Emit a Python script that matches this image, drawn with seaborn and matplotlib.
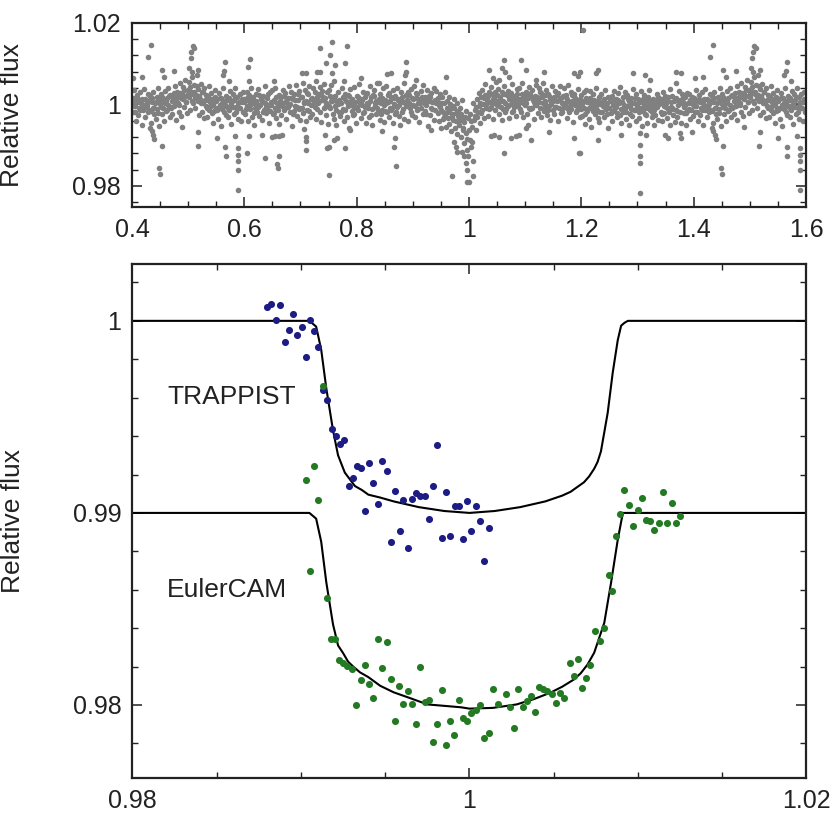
import numpy as np
import pandas as pd
import matplotlib
matplotlib.use("Agg")
import matplotlib.pyplot as plt
import seaborn as sns
from matplotlib.ticker import MultipleLocator, FuncFormatter

# ---- top panel: phase-folded light curve (phase in 1e-3, flux offset in 1e-3) ----
band_pts = """
601,1.2 602,-2.5 604,3.1 605,-0.4 607,-4.2 608,0.8 609,2.2
611,-1.1 612,4.0 614,-3.0 615,0.3 616,1.9 618,-5.1 619,-0.9
621,2.6 622,-1.8 623,0.1 625,3.7 626,-2.9 628,-0.2 629,1.4
631,-3.8 632,0.9 634,2.0 635,-1.4 637,4.4 638,-0.6 639,-2.2
641,1.6 642,-0.3 644,-4.6 645,2.9 646,-1.7 648,0.5 649,3.4
651,-2.4 652,1.1 654,-0.8 655,4.1 657,-3.3 658,0.2 659,-1.0
661,2.3 662,-4.9 663,-0.1 665,1.8 666,-2.6 668,3.5 669,0.4
671,-1.3 672,2.7 674,-3.7 675,0.7 677,1.5 678,-0.7 679,4.6
681,-2.0 682,0.0 684,3.0 685,-5.4 686,1.2 688,-1.6 689,2.4
691,-0.5 692,4.8 694,-2.8 695,1.0 697,-1.2 698,3.2 699,-3.9
701,1.9 702,-0.9 704,5.2 705,-2.1 707,0.6 708,3.6 709,-4.0
711,2.8 712,-1.5 714,0.4 715,4.5 717,-3.2 718,1.3 719,-0.3
721,-2.3 722,3.9 724,0.8 725,-0.6 727,5.6 728,-3.6 729,1.7
731,0.2 732,2.5 734,-1.9 735,4.2 737,-4.4 738,1.0 739,3.3
741,-0.8 742,5.0 744,1.5 745,-2.7 747,2.9 748,-0.2 749,-4.8
751,3.4 752,-1.0 754,0.9 755,4.7 757,-2.4 758,1.8 759,-3.5
761,-0.4 762,2.1 764,-5.0 765,0.6 767,3.0 768,-1.8 769,1.1
771,-2.9 772,0.3 774,4.0 775,-1.2 777,1.6 778,-4.1 779,2.6
781,0.9 782,-3.1 784,2.2 785,-0.5 787,-5.7 788,3.7 789,0.0
791,-1.6 792,1.4 794,-2.6 795,4.3 797,0.5 798,-0.9 799,-4.5
801,2.0 802,-1.3 804,0.7 805,4.9 807,-3.4 808,1.2 809,-0.2
811,-2.2 812,3.1 814,-0.7 815,1.7 817,-4.7 818,0.4 819,2.8
821,0.1 822,-3.0 824,4.4 825,1.9 827,-1.1 828,-5.2 829,2.3
831,3.6 832,-0.4 834,-2.5 835,0.8 837,5.3 838,-1.7 839,1.3
841,-3.8 842,2.4 844,0.2 845,-1.4 847,3.9 848,-0.1 849,-4.3
851,1.0 852,4.6 854,-2.0 855,0.5 857,-3.2 858,2.7 859,-0.8
861,-1.5 862,1.8 864,3.4 865,-4.6 867,0.0 868,2.1 869,-2.3
871,4.1 872,-0.6 874,1.4 875,-2.9 877,0.9 878,-5.0 879,3.0
881,-1.9 882,0.6 884,5.1 885,-3.5 887,2.3 888,-0.3 889,1.1
891,2.9 892,-4.2 894,0.3 895,-1.0 897,3.8 898,1.5 899,-2.7
901,-0.2 902,4.4 904,-3.1 905,1.6 907,-1.3 908,2.6 909,0.4
911,-4.4 912,1.2 914,3.2 915,-0.9 917,0.7 918,-2.4 919,4.8
921,1.9 922,-1.7 924,-0.3 925,3.5 927,-5.3 928,0.9 929,2.0
931,-2.6 932,2.8 934,0.5 935,-1.2 937,4.0 938,-3.9 939,1.0
941,0.2 942,3.3 944,-2.1 945,1.5 947,-4.0 948,-0.6 949,2.4
951,-1.4 952,1.7 954,-3.6 955,0.4 957,2.9 958,-2.3 959,-5.6
961,0.9 962,-2.0 964,-4.8 965,1.8 967,-1.1 968,-6.5 969,-3.0
971,-0.4 972,-3.8 974,1.3 975,-5.9 977,-2.2 978,-7.4 979,0.2
981,-2.9 982,-5.2 984,-0.8 985,-8.1 987,-3.6 988,1.0 989,-6.3
991,-4.4 992,-9.5 994,-1.6 995,-7.0 997,-11.2 998,-3.3 999,-12.6
1001,-8.8 1002,-2.5 1004,-10.4 1005,-5.5 1007,0.4 1008,-13.8 1009,-3.9
1011,-1.5 1012,-6.2 1014,1.4 1015,-3.0 1017,2.7 1018,-0.4 1019,-4.6
1021,1.8 1022,-2.2 1024,3.6 1025,0.0 1027,-3.4 1028,2.2 1029,4.9
1031,-1.0 1032,1.1 1034,-2.8 1035,3.0 1037,0.6 1038,-0.8 1039,4.3
1041,2.5 1042,-3.6 1044,0.3 1045,1.6 1047,-1.5 1048,5.4 1049,-0.2
1051,0.8 1052,3.7 1054,-2.4 1055,1.9 1057,-0.6 1058,-3.9 1059,2.9
1061,-1.2 1062,4.5 1064,0.4 1065,-2.0 1067,2.3 1068,-0.1 1069,3.3
1071,1.4 1072,-3.3 1074,2.7 1075,0.1 1077,5.0 1078,-1.7 1079,0.9
1081,-0.7 1082,2.0 1084,-2.9 1085,3.8 1087,1.2 1088,-0.4 1089,4.1
1091,0.5 1092,-1.9 1094,2.6 1095,5.3 1097,-3.0 1098,1.7 1099,-0.3
1101,3.1 1102,0.2 1104,-2.3 1105,1.5 1107,4.2 1108,-1.1 1109,2.4
1111,-0.9 1112,3.5 1114,1.0 1115,-3.6 1117,2.1 1118,0.0 1119,4.7
1121,1.8 1122,-2.1 1124,4.0 1125,0.6 1127,-0.8 1128,2.8 1129,-3.2
1131,0.3 1132,5.1 1134,-1.6 1135,2.2 1137,-0.2 1138,3.6 1139,-2.7
1141,2.5 1142,-0.5 1144,1.1 1145,-3.8 1147,4.4 1148,0.7 1149,-1.3
1151,-2.4 1152,1.9 1154,3.2 1155,-0.6 1157,0.8 1158,-4.0 1159,2.7
1161,1.0 1162,4.6 1164,-2.2 1165,0.4 1167,2.0 1168,-1.0 1169,3.9
1171,-0.3 1172,2.3 1174,-3.4 1175,1.3 1177,4.8 1178,-1.8 1179,0.6
1181,3.0 1182,-1.2 1184,0.9 1185,-4.3 1187,2.4 1188,-0.1 1189,1.6
1191,-2.0 1192,0.5 1194,3.7 1195,-0.7 1197,1.2 1198,-3.1 1199,2.2
1201,0.1 1202,-2.8 1204,2.9 1205,-1.0 1207,-4.9 1208,1.5 1209,3.4
1211,-1.6 1212,1.0 1214,-3.7 1215,3.2 1217,-0.2 1218,-5.5 1219,0.8
1221,2.4 1222,-0.9 1224,-2.5 1225,0.6 1227,4.0 1228,-1.4 1229,-3.3
1231,1.7 1232,-4.4 1234,0.0 1235,2.6 1237,-2.0 1238,0.9 1239,-0.5
1241,-3.0 1242,3.5 1244,-1.2 1245,0.4 1247,-5.8 1248,1.9 1249,-0.8
1251,0.7 1252,-2.2 1254,2.1 1255,-4.1 1257,-0.3 1258,3.3 1259,-1.5
1261,-0.6 1262,1.4 1264,-3.2 1265,2.8 1267,0.2 1268,-2.6 1269,4.2
1271,-4.6 1272,0.5 1274,-1.8 1275,1.9 1277,-0.9 1278,3.0 1279,-3.5
1281,2.2 1282,-0.4 1284,-5.0 1285,0.8 1287,-2.3 1288,1.6 1289,-1.1
1291,-2.9 1292,3.8 1294,0.3 1295,-1.5 1297,2.5 1298,-4.2 1299,0.0
1301,1.2 1302,-3.4 1304,0.6 1305,-0.9 1307,3.2 1308,-5.3 1309,-1.7
1311,-0.2 1312,2.3 1314,-2.4 1315,0.9 1317,-4.5 1318,1.7 1319,-1.0
1321,3.6 1322,-1.3 1324,0.2 1325,-3.1 1327,1.4 1328,-0.5 1329,-5.2
1331,0.8 1332,-2.7 1334,2.6 1335,-0.7 1337,-3.8 1338,1.1 1339,0.0
1341,-1.9 1342,1.3 1344,-4.0 1345,3.0 1347,-0.4 1348,-2.1 1349,2.0
1351,0.4 1352,-3.3 1354,1.8 1355,-1.2 1357,3.7 1358,-5.0 1359,-0.6
1361,2.1 1362,-0.8 1364,-2.6 1365,0.7 1367,-4.3 1368,1.5 1369,-1.4
1371,-3.0 1372,1.0 1374,3.3 1375,-1.8 1377,0.3 1378,-4.7 1379,2.4
1381,0.6 1382,-2.2 1384,1.7 1385,-0.3 1387,-5.1 1388,2.8 1389,-1.6
1391,-1.1 1392,2.5 1394,-3.5 1395,0.4 1397,1.9 1398,-2.8 1399,0.0
1401,1.6 1402,-1.9 1404,3.4 1405,-0.4 1407,-4.0 1408,0.9 1409,2.3
1411,-2.7 1412,0.5 1414,2.9 1415,-1.3 1417,-5.2 1418,1.4 1419,-0.2
1421,3.8 1422,-0.8 1424,-3.1 1425,1.1 1427,0.0 1428,-2.0 1429,2.6
1431,-1.5 1432,2.0 1434,-4.6 1435,0.6 1437,3.1 1438,-0.9 1439,-2.4
1441,0.3 1442,-3.6 1444,1.8 1445,-1.1 1447,3.9 1448,-5.3 1449,0.8
1451,2.5 1452,-0.6 1454,-2.3 1455,1.3 1457,-4.2 1458,0.2 1459,3.3
1461,-1.7 1462,1.5 1464,4.1 1465,-0.2 1467,-3.0 1468,2.2 1469,-1.0
1471,0.7 1472,-2.5 1474,2.7 1475,-0.5 1477,4.5 1478,-3.9 1479,1.2
1481,3.0 1482,0.4 1484,-1.8 1485,5.2 1487,1.6 1488,-2.9 1489,2.4
1491,4.3 1492,-0.7 1494,2.1 1495,6.0 1497,0.5 1498,-2.2 1499,3.5
1501,1.8 1502,5.5 1504,-1.4 1505,3.1 1507,6.8 1508,0.2 1509,2.6
1511,4.7 1512,-0.9 1514,2.2 1515,7.1 1517,0.9 1518,3.8 1519,-2.6
1521,1.4 1522,5.0 1524,-1.8 1525,2.9 1527,0.3 1528,-3.4 1529,4.1
1531,-0.5 1532,2.3 1534,-3.0 1535,1.0 1537,4.6 1538,-1.5 1539,0.6
1541,2.7 1542,-2.1 1544,0.0 1545,-4.7 1547,1.9 1548,3.5 1549,-0.8
1551,-1.3 1552,1.2 1554,-3.5 1555,2.8 1557,-0.3 1558,-5.4 1559,1.6
1561,0.4 1562,3.9 1564,-1.9 1565,0.9 1567,-2.7 1568,2.0 1569,-0.6
1571,-3.2 1572,1.5 1574,-0.4 1575,3.3 1577,-4.9 1578,0.7 1579,2.4
1581,1.1 1582,-2.4 1584,4.0 1585,-0.7 1587,1.8 1588,-3.7 1589,0.2
1591,-1.0 1592,2.6 1594,-4.1 1595,0.5 1597,3.0 1598,-2.0 1599,1.3
"""

# denser core of the band
core_pts = """
600,0.5 603,-1.2 606,1.8 610,-0.3 613,1.5 617,-2.1 620,0.9 624,-0.7 627,2.2
630,1.3 633,-1.9 636,0.2 640,-0.9 643,2.4 647,-0.1 650,0.6 653,-2.2 656,1.7
660,-1.4 664,0.8 667,-0.4 670,2.0 673,-0.9 676,0.3 680,-0.2 683,1.6 687,-2.4
690,1.1 693,-0.6 696,2.5 700,-1.0 703,1.9 706,0.4 710,0.7 713,2.6 716,-1.6
720,1.5 723,-0.2 726,2.9 730,-1.2 733,0.9 736,2.3 740,1.8 743,-0.7 746,0.4
750,-0.5 753,2.1 756,0.9 760,1.2 763,-1.5 766,0.1 770,0.4 773,-2.0 776,1.9
780,-1.3 783,0.6 786,2.0 790,0.8 793,-0.4 796,-2.3 800,-0.6 803,1.7 806,0.0
810,1.0 813,-1.8 816,2.4 820,-0.9 823,0.8 826,-2.6 830,2.1 833,0.3 836,-1.0
840,0.5 843,-2.3 846,1.6 850,-1.7 853,0.2 856,2.3 860,0.9 863,-0.8 866,1.5
870,-2.0 873,1.1 876,-0.3 880,1.7 883,-1.1 886,0.6 890,-0.4 893,2.2 896,-1.9
900,1.3 903,-0.5 906,2.7 910,-1.2 913,0.4 916,1.8 920,0.2 923,-2.4 926,1.1
930,1.9 933,-0.8 936,0.6 940,-1.5 943,1.0 946,-0.2 950,0.3 953,-1.8 956,-3.1
960,-1.0 963,-3.4 966,0.0 970,-2.5 973,-0.9 976,-4.2 980,-1.6 983,-4.0 986,-2.4
990,-5.8 993,-3.0 996,-8.5 1000,-6.4 1003,-4.2 1006,-9.3 1010,-2.8 1013,-0.6
1016,-2.0 1020,0.4 1023,-1.3 1026,1.6 1030,0.0 1033,2.0 1036,-1.1 1040,-0.7
1043,1.3 1046,3.0 1050,2.2 1053,-0.4 1056,0.9 1060,0.7 1063,2.4 1066,-1.1
1070,-0.4 1073,1.8 1076,-1.9 1080,1.0 1083,0.2 1086,2.6 1090,-1.1 1093,1.4
1096,0.3 1100,0.8 1103,2.7 1106,-0.8 1110,1.9 1113,-1.0 1116,0.6 1120,-0.3
1123,1.2 1126,2.9 1130,1.7 1133,-0.9 1136,0.8 1140,-1.4 1143,2.0 1146,0.1
1150,0.9 1153,-0.6 1156,2.2 1160,-0.8 1163,1.5 1166,-2.0 1170,2.1 1173,0.6
1176,-1.2 1180,-0.5 1183,2.3 1186,0.3 1190,1.0 1193,-1.4 1196,0.2 1200,-1.1
1203,0.9 1206,-2.3 1210,0.5 1213,-0.8 1216,1.6 1220,-1.7 1223,1.0 1226,-0.5
1230,0.8 1233,-1.9 1236,0.3 1240,1.2 1243,-0.6 1246,-2.4 1250,-0.9 1253,1.1
1256,-1.6 1260,0.3 1263,-2.2 1266,1.0 1270,-1.1 1273,0.6 1276,-0.2 1280,-1.8
1283,1.2 1286,-0.5 1290,0.4 1293,-1.3 1296,1.5 1300,-0.6 1303,-2.0 1306,0.9
1310,1.3 1313,-0.9 1316,-2.6 1320,-0.1 1323,1.0 1326,-1.8 1330,-1.4 1333,0.5
1336,1.7 1340,0.2 1343,-2.5 1346,0.9 1350,-0.7 1353,1.4 1356,-1.9 1360,0.6
1363,-1.1 1366,1.2 1370,-1.6 1373,-0.2 1376,0.9 1380,1.3 1383,-0.7 1386,-2.2
1390,0.2 1393,1.1 1396,-1.4 1400,-0.5 1403,0.8 1406,-1.8 1410,1.4 1413,-1.0
1416,0.4 1420,-1.5 1423,1.3 1426,-0.4 1430,0.9 1433,-1.7 1436,1.6 1440,-0.8
1443,0.5 1446,-2.1 1450,0.1 1453,1.7 1456,-1.0 1460,0.8 1463,-1.3 1466,2.0
1470,-0.6 1473,1.5 1476,0.2 1480,1.9 1483,-0.3 1486,2.8 1490,1.2 1493,3.4
1496,0.6 1500,2.6 1503,4.2 1506,0.9 1510,3.0 1513,1.5 1516,4.4 1520,2.0
1523,0.2 1526,3.1 1530,1.1 1533,-0.8 1536,2.0 1540,-0.4 1543,1.3 1546,-1.6
1550,0.7 1553,-0.9 1556,1.5 1560,-1.2 1563,0.9 1566,-0.2 1570,1.0 1573,-1.5
1576,0.4 1580,-0.6 1583,1.7 1586,-1.9 1590,0.5 1593,-0.8 1596,1.4
"""

outlier_pts = """
756,15.3 735,13.7 753,12.1 783,14.3 611,11.0 607,9.2 608,5.7 745,10.2
762,9.6 780,10.0 703,7.6 709,7.6 729,7.8 735,7.8 756,7.6 652,5.8 759,5.7
777,5.7 649,-8.0 655,-7.8 661,-7.7 667,-7.5 631,-7.5 608,-7.9 706,-6.1
709,-8.1 710,-9.1 709,-11.3 637,-13.2 661,-12.8 658,-14.6 660,-15.7
751,-17.3 747,-10.8 750,-10.4 780,-10.8 744,-7.5 759,-8.7 765,-8.3
789,-6.3 605,-12.0
887.2,10.4 887.2,8.0 885.4,7.2 860.5,7.6 854.5,7.4 905,6.0 958.4,6.6
807.1,6.4 839.7,5.2 869,-8.3 866.4,-10.4 869.4,-15.1 845.6,-6.6
931.7,-6.3 949.5,-5.9 970.3,-17.7 973.2,-9.2 976.2,-10.4 979.2,-11.6
994,-14.4 997,-16.1 997,-19.0 991.1,-12.8 988.1,-11.6
1062.8,10.9 1092.5,10.9 1036.1,8.4 1058.7,8.8 1064.6,8.0 1101.4,8.4
1134,7.8 1187.5,7.6 1193.4,6.9 1042.1,6.4 1052.8,5.9 1071.7,6.7
1119.2,5.9 1039.1,-7.9 1045,-7.5 1053.9,-8.1 1074.7,-8.3 1089.5,-7.5
1083.6,-7.9 1110.3,-8.8 1062.8,-12.0 1006.5,-17.7 1000.5,-19.1
1143,-6.7 1187.5,-8.3 1196.4,-12.0 1101.4,-5.9 1104.4,-5.1
1202.3,18.2 1229.6,8.4 1226.6,7.6 1197,7.8 1291.9,7.6 1312.7,7.2
1321.6,6.0 1369.1,8.0 1378,7.6 1369.1,5.1 1229.6,-8.7 1197,-12.0
1303.8,-7.1 1303.8,-10.0 1303.8,-12.7 1303.8,-14.3 1303.8,-21.8
1271.2,-7.5 1354.2,-8.3 1348.3,-7.5 1375,-7.1 1378,-8.3 1315.7,-7.5
1433.8,14.5 1429,11.5 1507.9,14.3 1510.3,13.7 1505,12.8 1504.4,11.3
1502,8.8 1506.2,7.8 1452.7,8.4 1475.3,8.2 1565.5,10.4 1564.3,8.2
1561.3,7.2 1402.3,6.4 1417.1,6.8 1572.6,5.7 1456.9,6.6 1518,8.4
1437.9,-7.5 1439.7,-8.6 1452.7,-10.2 1448,-15.7 1449.8,-17.1
1489.5,-5.6 1518,-6.9 1516.8,-10.2 1550.7,-8.3 1565.5,-10.4
1566.7,-12.8 1589.2,-10.8 1589.2,-12.4 1589.2,-14.0 1589.2,-16.2
1589.2,-21.0 1396.4,-6.7 1432,-5.9 1435,-6.5 1583.3,-7.9
"""

# ---- bottom panel: transit photometry ----
trappist_phase = [0.98797, 0.98821, 0.98876, 0.98852, 0.98955, 0.98904, 0.98928,
                  0.98979, 0.99005, 0.99030, 0.99054, 0.99080, 0.99103, 0.99133,
                  0.99153, 0.99183, 0.99208, 0.99232, 0.99256, 0.99282, 0.99308,
                  0.99331, 0.99357, 0.99406, 0.99430, 0.99381, 0.99460, 0.99480,
                  0.99509, 0.99559, 0.99608, 0.99585, 0.99535, 0.99638, 0.99658,
                  0.99683, 0.99707, 0.99737, 0.99786, 0.99757, 0.99810, 0.99862,
                  0.99836, 0.99885, 0.99915, 0.99935, 0.99985, 1.00040, 1.00064,
                  1.00010, 1.00113, 0.99961, 1.00089]
trappist_flux = [1.00074, 1.00088, 1.00083, 1.00002, 1.00035, 0.99892, 0.99953,
                 0.99927, 0.99967, 0.99811, 1.00005, 0.99948, 0.99866, 0.99641,
                 0.99589, 0.99438, 0.99398, 0.99359, 0.99381, 0.99142, 0.99182,
                 0.99246, 0.99232, 0.99260, 0.99156, 0.99012, 0.99047, 0.99268,
                 0.99220, 0.99112, 0.99066, 0.98908, 0.98847, 0.98818, 0.99073,
                 0.99104, 0.99086, 0.99086, 0.99138, 0.98969, 0.99355, 0.99109,
                 0.98870, 0.98878, 0.99034, 0.99038, 0.99060, 0.99034, 0.98956,
                 0.98908, 0.98922, 0.98865, 0.98748]

euler_phase = [0.99133, 0.99080, 0.99030, 0.99103, 0.99054, 0.99153, 0.99177,
               0.99203, 0.99228, 0.99252, 0.99276, 0.99305, 0.99381, 0.99480,
               0.99460, 0.99510, 0.99707, 0.99357, 0.99406, 0.99533, 0.99584,
               0.99634, 0.99430, 0.99327, 0.99608, 0.99658, 0.99737, 0.99762,
               0.99836, 0.99559, 0.99683, 0.99810, 0.99885, 0.99786, 0.99862,
               0.99911, 0.99935, 0.99961, 0.99985, 1.00010, 1.00040, 1.00064,
               1.00089, 1.00113, 1.00139, 1.00172, 1.00218, 1.00242, 1.00267,
               1.00287, 1.00317, 1.00341, 1.00365, 1.00390, 1.00410, 1.00436,
               1.00460, 1.00489, 1.00515, 1.00539, 1.00562, 1.00594, 1.00644,
               1.00618, 1.00667, 1.00693, 1.00717, 1.00746, 1.00772, 1.00796,
               1.00825, 1.00846, 1.00871, 1.00895, 1.00919, 1.00947, 1.00970,
               1.00998, 1.01024, 1.01049, 1.01073, 1.01097, 1.01122, 1.01148,
               1.01172, 1.01202, 1.01223, 1.01251]
euler_flux = [0.99662, 0.99246, 0.99170, 0.99066, 0.98696, 0.98558, 0.98341,
              0.98341, 0.98233, 0.98220, 0.98202, 0.98185, 0.98206, 0.98190,
              0.98346, 0.98329, 0.98196, 0.98130, 0.98107, 0.98137, 0.98098,
              0.98072, 0.98038, 0.97998, 0.98003, 0.98003, 0.98015, 0.98025,
              0.98077, 0.97916, 0.97899, 0.97899, 0.97916, 0.97809, 0.97792,
              0.97842, 0.98025, 0.97934, 0.97916, 0.97960, 0.97973, 0.97998,
              0.97826, 0.97856, 0.98085, 0.98003, 0.98055, 0.97989, 0.97882,
              0.98085, 0.97991, 0.98020, 0.98046, 0.97963, 0.98095, 0.98085,
              0.98072, 0.98055, 0.98008, 0.98064, 0.98038, 0.98220, 0.98241,
              0.98150, 0.98086, 0.98142, 0.98206, 0.98384, 0.98332, 0.98402,
              0.98679, 0.98592, 0.98878, 0.98996, 0.99118, 0.99043, 0.98930,
              0.99017, 0.99078, 0.98965, 0.98956, 0.98913, 0.98948, 0.99107,
              0.98948, 0.99052, 0.98948, 0.98982]

# model curves (vertices)
model_t_phase = [0.9800, 0.9905, 0.9909, 0.9912, 0.9915, 0.9919, 0.9922, 0.9926,
                 0.9929, 0.9932, 0.9936, 0.9940, 0.9947, 0.9955, 0.9970, 0.9985,
                 1.0000, 1.0015, 1.0030, 1.0045, 1.0055, 1.0060, 1.0064, 1.0068,
                 1.0071, 1.0074, 1.0076, 1.0078, 1.0082, 1.0085, 1.0088, 1.0090,
                 1.0092, 1.0094, 1.0200]
model_t_flux = [1.0000, 1.0000, 0.9997, 0.9985, 0.9965, 0.9943, 0.9930, 0.9921,
                0.99175, 0.9914, 0.9912, 0.99095, 0.9908, 0.9906, 0.9903, 0.9901,
                0.9900, 0.9901, 0.9903, 0.9906, 0.9909, 0.9911, 0.99135, 0.9916,
                0.9919, 0.9923, 0.99265, 0.9932, 0.9952, 0.9973, 0.9990, 0.99975,
                0.9999, 1.0000, 1.0000]
model_e_phase = [0.9800, 0.9905, 0.9909, 0.9912, 0.9915, 0.9919, 0.9922, 0.9925,
                 0.9928, 0.9931, 0.9935, 0.9940, 0.9947, 0.9955, 0.9965, 0.9975,
                 0.9995, 1.0000, 1.0014, 1.0028, 1.0038, 1.0048, 1.0055, 1.0062,
                 1.0066, 1.0070, 1.0074, 1.0080, 1.0084, 1.0088, 1.0091, 1.0200]
model_e_flux = [0.9900, 0.9900, 0.9897, 0.9885, 0.9864, 0.9842, 0.9831, 0.9827,
                0.98225, 0.9820, 0.9817, 0.98145, 0.9810, 0.98066, 0.98035,
                0.98003, 0.97988, 0.97981, 0.97985, 0.98003, 0.9803, 0.98064,
                0.98095, 0.98133, 0.98165, 0.9821, 0.98272, 0.98428, 0.98636,
                0.98861, 0.9900, 0.9900]


def parse_pairs(text):
    arr = np.array([p.split(",") for p in text.split()], dtype=float)
    return arr[:, 0] / 1000.0, 1.0 + arr[:, 1] / 1000.0


frames = []
for block in (band_pts, core_pts, outlier_pts):
    ph, fl = parse_pairs(block)
    frames.append(pd.DataFrame({"phase": ph, "flux": fl}))
top = pd.concat(frames, ignore_index=True)
# the folded curve is shown over 1.2 cycles: phases 1.4-1.6 repeat at 0.4-0.6
top = pd.concat([top, top[top.phase >= 1.4].assign(phase=lambda d: d.phase - 1.0)])

sns.set_style("ticks")
plt.rcParams["font.family"] = ["Liberation Sans", "DejaVu Sans"]

fig = plt.figure(figsize=(8.38, 8.25), dpi=100)
ax1 = fig.add_axes([0.1575, 0.7495, 0.8043, 0.2230])
ax2 = fig.add_axes([0.1581, 0.0570, 0.8043, 0.6230])

sns.scatterplot(data=top, x="phase", y="flux", ax=ax1, color="#808080",
                s=16, linewidth=0, legend=False)

trap = pd.DataFrame({"phase": trappist_phase, "flux": trappist_flux})
euler = pd.DataFrame({"phase": euler_phase, "flux": euler_flux})
mt = pd.DataFrame({"phase": model_t_phase, "flux": model_t_flux})
me = pd.DataFrame({"phase": model_e_phase, "flux": model_e_flux})

sns.lineplot(data=mt, x="phase", y="flux", ax=ax2, color="black", lw=1.5,
             sort=False, estimator=None)
sns.lineplot(data=me, x="phase", y="flux", ax=ax2, color="black", lw=1.5,
             sort=False, estimator=None)
sns.scatterplot(data=trap, x="phase", y="flux", ax=ax2, color="#1c1c84",
                s=26, linewidth=0, legend=False, zorder=3)
sns.scatterplot(data=euler, x="phase", y="flux", ax=ax2, color="#237a23",
                s=26, linewidth=0, legend=False, zorder=3)

ax2.text(0.98205, 0.99605, "TRAPPIST", fontsize=19, va="center", ha="left",
         color="#222222")
ax2.text(0.98205, 0.98601, "EulerCAM", fontsize=19, va="center", ha="left",
         color="#222222")

fmt = FuncFormatter(lambda v, p: f"{v:g}")

ax1.set_xlim(0.4, 1.6)
ax1.set_ylim(0.9749, 1.02)
ax1.xaxis.set_major_locator(MultipleLocator(0.2))
ax1.xaxis.set_minor_locator(MultipleLocator(0.05))
ax1.yaxis.set_major_locator(MultipleLocator(0.02))
ax1.yaxis.set_minor_locator(MultipleLocator(0.004))

ax2.set_xlim(0.98, 1.02)
ax2.set_ylim(0.9762, 1.00296)
ax2.xaxis.set_major_locator(MultipleLocator(0.02))
ax2.xaxis.set_minor_locator(MultipleLocator(0.005))
ax2.yaxis.set_major_locator(MultipleLocator(0.01))
ax2.yaxis.set_minor_locator(MultipleLocator(0.002))

for ax in (ax1, ax2):
    ax.xaxis.set_major_formatter(fmt)
    ax.yaxis.set_major_formatter(fmt)
    ax.tick_params(which="both", direction="in", top=True, right=True,
                   labelsize=18, colors="#222222", pad=8)
    ax.tick_params(which="major", length=7, width=1.1)
    ax.tick_params(which="minor", length=4, width=1.0)
    for sp in ax.spines.values():
        sp.set_linewidth(1.6)
        sp.set_color("#222222")
    ax.set_xlabel("")
    ax.set_ylabel("Relative flux", fontsize=19, color="#222222")
    ax.yaxis.set_label_coords(-0.16, 0.5)

fig.savefig("out.png", dpi=100)
